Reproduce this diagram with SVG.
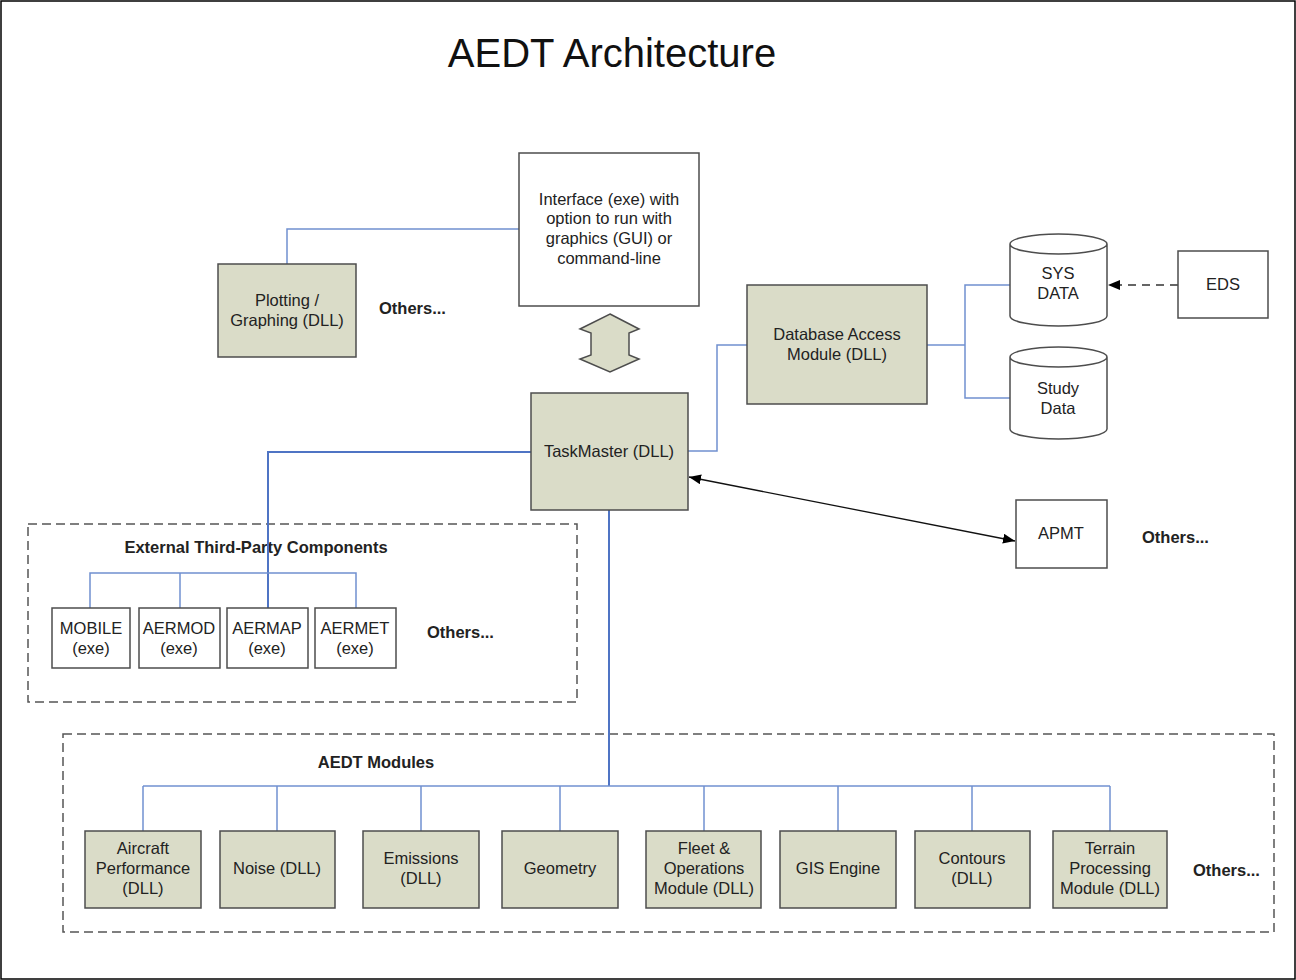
<svg xmlns="http://www.w3.org/2000/svg" width="1296" height="980" viewBox="0 0 1296 980">
<defs>
<style>
.t{font-family:"Liberation Sans",Arial,sans-serif;font-size:16.5px;fill:#222;text-anchor:middle}
.b{font-family:"Liberation Sans",Arial,sans-serif;font-size:16.5px;font-weight:bold;fill:#222}
.g{fill:#dadcc8;stroke:#4d4d4d;stroke-width:1.5}
.w{fill:#fff;stroke:#4d4d4d;stroke-width:1.5}
.c{fill:none;stroke:#7090d0;stroke-width:1.5}
.ct{fill:none;stroke:#4f74c4;stroke-width:2}
.dash{fill:none;stroke:#555;stroke-width:1.5;stroke-dasharray:9 5}
</style>
<marker id="ah" viewBox="0 0 12 10" refX="12" refY="5" markerWidth="12" markerHeight="10" markerUnits="userSpaceOnUse" orient="auto-start-reverse">
<path d="M0,0 L12,5 L0,10 Z" fill="#000"/>
</marker>
</defs>
<rect x="1" y="1" width="1294" height="978" fill="#fff" stroke="#000" stroke-width="1.5"/>
<text x="612" y="67" style="font-family:'Liberation Sans',Arial,sans-serif;font-size:40px;fill:#111;text-anchor:middle">AEDT Architecture</text>

<g id="containers">
<rect id="external" x="28" y="524" width="549" height="178" class="dash"/>
<text x="256" y="553" class="b" text-anchor="middle">External Third-Party Components</text>
<rect id="modules" x="63" y="734" width="1211" height="198" class="dash"/>
<text x="376" y="768" class="b" text-anchor="middle">AEDT Modules</text>
</g>

<g id="connectors">
<polyline class="c" points="287,264 287,229 519,229"/>
<polyline class="c" points="688,451 717,451 717,345 747,345"/>
<line class="c" x1="927" y1="345" x2="965" y2="345"/>
<polyline class="c" points="1010,285 965,285 965,398 1010,398"/>
<polyline class="ct" points="531,452 268,452 268,608"/>
<polyline class="c" points="90,608 90,573 356,573 356,608"/>
<line class="c" x1="180" y1="573" x2="180" y2="608"/>
<line class="ct" x1="609" y1="510" x2="609" y2="786"/>
<line class="c" x1="143" y1="786" x2="1110" y2="786"/>
<line class="c" x1="143" y1="786" x2="143" y2="831"/>
<line class="c" x1="277" y1="786" x2="277" y2="831"/>
<line class="c" x1="421" y1="786" x2="421" y2="831"/>
<line class="c" x1="560" y1="786" x2="560" y2="831"/>
<line class="c" x1="704" y1="786" x2="704" y2="831"/>
<line class="c" x1="838" y1="786" x2="838" y2="831"/>
<line class="c" x1="972" y1="786" x2="972" y2="831"/>
<line class="c" x1="1110" y1="786" x2="1110" y2="831"/>
<line x1="1178" y1="285" x2="1108" y2="285" stroke="#333" stroke-width="1.5" stroke-dasharray="8 6" marker-end="url(#ah)"/>
<line x1="689" y1="477" x2="1015" y2="541" stroke="#111" stroke-width="1.3" marker-start="url(#ah)" marker-end="url(#ah)"/>
<polygon id="dblarrow" points="610,314 639,329 629,333 629,355 639,359 610,372 580,359 591,355 591,333 580,329" class="g"/>
</g>

<g id="interface">
<rect x="519" y="153" width="180" height="153" class="w"/>
<text class="t" x="609" y="205">Interface (exe) with</text>
<text class="t" x="609" y="224">option to run with</text>
<text class="t" x="609" y="244">graphics (GUI) or</text>
<text class="t" x="609" y="264">command-line</text>
</g>
<g id="plotting">
<rect x="218" y="264" width="138" height="93" class="g"/>
<text class="t" x="287" y="306">Plotting /</text>
<text class="t" x="287" y="326">Graphing (DLL)</text>
</g>
<text class="b" x="379" y="314">Others...</text>
<g id="taskmaster">
<rect x="531" y="393" width="157" height="117" class="g"/>
<text class="t" x="609" y="457">TaskMaster (DLL)</text>
</g>
<g id="dbaccess">
<rect x="747" y="285" width="180" height="119" class="g"/>
<text class="t" x="837" y="340">Database Access</text>
<text class="t" x="837" y="360">Module (DLL)</text>
</g>
<g id="sysdata">
<path d="M1010,244 A48.5,10 0 0 1 1107,244 L1107,316 A48.5,10 0 0 1 1010,316 Z M1010,244 A48.5,10 0 0 0 1107,244" class="w"/>
<text class="t" x="1058" y="279">SYS</text>
<text class="t" x="1058" y="299">DATA</text>
</g>
<g id="studydata">
<path d="M1010,357 A48.5,10 0 0 1 1107,357 L1107,429 A48.5,10 0 0 1 1010,429 Z M1010,357 A48.5,10 0 0 0 1107,357" class="w"/>
<text class="t" x="1058" y="394">Study</text>
<text class="t" x="1058" y="414">Data</text>
</g>
<g id="eds">
<rect x="1178" y="251" width="90" height="67" class="w"/>
<text class="t" x="1223" y="290">EDS</text>
</g>
<g id="apmt">
<rect x="1016" y="500" width="91" height="68" class="w"/>
<text class="t" x="1061" y="539">APMT</text>
</g>
<text class="b" x="1142" y="543">Others...</text>

<g id="mobile">
<rect x="52" y="608" width="78" height="60" class="w"/>
<text class="t" x="91" y="634">MOBILE</text>
<text class="t" x="91" y="654">(exe)</text>
</g>
<g id="aermod">
<rect x="139" y="608" width="81" height="60" class="w"/>
<text class="t" x="179" y="634">AERMOD</text>
<text class="t" x="179" y="654">(exe)</text>
</g>
<g id="aermap">
<rect x="227" y="608" width="81" height="60" class="w"/>
<text class="t" x="267" y="634">AERMAP</text>
<text class="t" x="267" y="654">(exe)</text>
</g>
<g id="aermet">
<rect x="315" y="608" width="81" height="60" class="w"/>
<text class="t" x="355" y="634">AERMET</text>
<text class="t" x="355" y="654">(exe)</text>
</g>
<text class="b" x="427" y="638">Others...</text>

<g id="aircraft">
<rect x="85" y="831" width="116" height="77" class="g"/>
<text class="t" x="143" y="854">Aircraft</text>
<text class="t" x="143" y="874">Performance</text>
<text class="t" x="143" y="894">(DLL)</text>
</g>
<g id="noise">
<rect x="220" y="831" width="115" height="77" class="g"/>
<text class="t" x="277" y="874">Noise (DLL)</text>
</g>
<g id="emissions">
<rect x="363" y="831" width="116" height="77" class="g"/>
<text class="t" x="421" y="864">Emissions</text>
<text class="t" x="421" y="884">(DLL)</text>
</g>
<g id="geometry">
<rect x="502" y="831" width="116" height="77" class="g"/>
<text class="t" x="560" y="874">Geometry</text>
</g>
<g id="fleet">
<rect x="646" y="831" width="115" height="77" class="g"/>
<text class="t" x="704" y="854">Fleet &amp;</text>
<text class="t" x="704" y="874">Operations</text>
<text class="t" x="704" y="894">Module (DLL)</text>
</g>
<g id="gis">
<rect x="780" y="831" width="116" height="77" class="g"/>
<text class="t" x="838" y="874">GIS Engine</text>
</g>
<g id="contours">
<rect x="915" y="831" width="115" height="77" class="g"/>
<text class="t" x="972" y="864">Contours</text>
<text class="t" x="972" y="884">(DLL)</text>
</g>
<g id="terrain">
<rect x="1053" y="831" width="114" height="77" class="g"/>
<text class="t" x="1110" y="854">Terrain</text>
<text class="t" x="1110" y="874">Processing</text>
<text class="t" x="1110" y="894">Module (DLL)</text>
</g>
<text class="b" x="1193" y="876">Others...</text>
</svg>
